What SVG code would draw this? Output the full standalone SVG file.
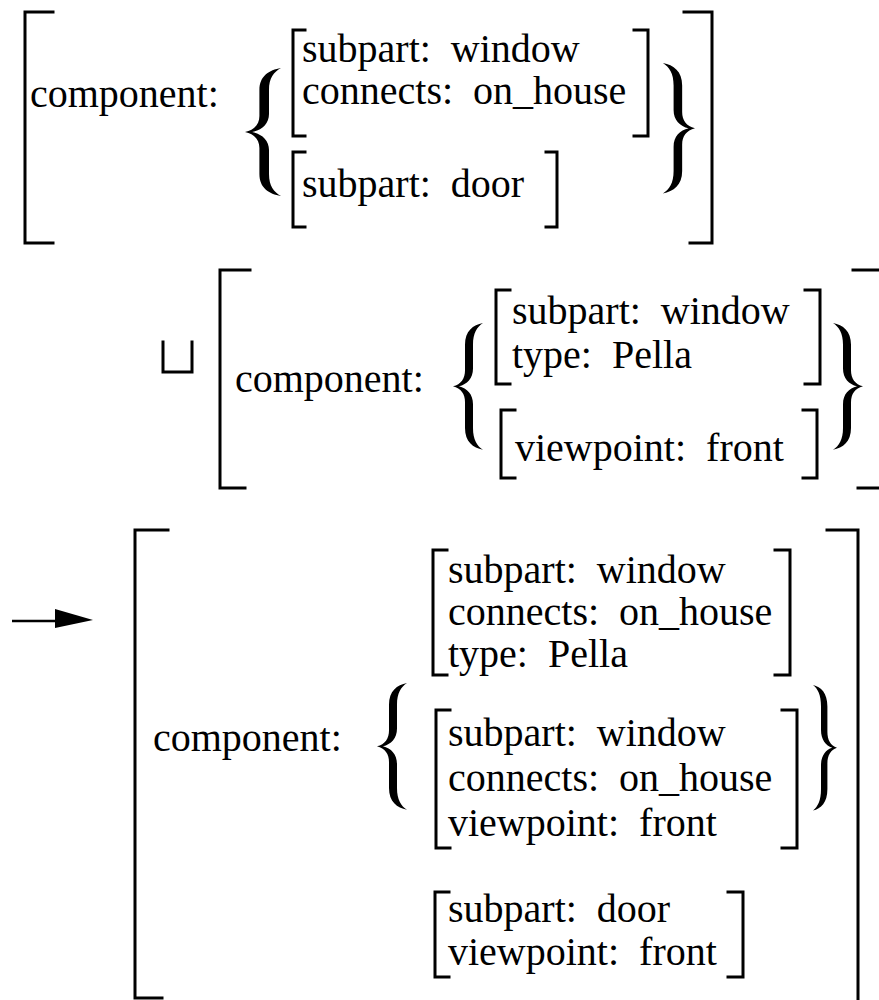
<svg xmlns="http://www.w3.org/2000/svg" xmlns:xlink="http://www.w3.org/1999/xlink" width="879" height="1000" viewBox="0 0 879 1000" xml:space="preserve">
<style>
text { font-family: "Liberation Serif", "Times New Roman", serif; font-size: 40px; fill: #000; white-space: pre; }
.br { fill: none; stroke: #000; stroke-width: 3; stroke-linecap: square; stroke-linejoin: miter; }
.brace { fill: #000; }
</style>
<defs>
<path id="lbrace" d="M30,0 C20,2 12,8 12,22 L12,48 C12,56 8,62 0,64 C8,66 12,72 12,80 L12,106 C12,120 20,126 30,128 C24,124 20,118 20,106 L20,82 C20,72 14,66 6,64 C14,62 20,56 20,46 L20,22 C20,10 24,4 30,0 Z"/>
</defs>
<rect width="879" height="1000" fill="#fff"/>

<g id="block1">
  <path class="br" d="M53,12 H25 V243 H53"/>
  <text x="30" y="107">component:</text>
  <use href="#lbrace" class="brace" transform="translate(245,68) scale(1.2,1.0)"/>
  <g id="b1-fs1">
    <path class="br" d="M305,30 H293 V136 H305"/>
    <text x="302" y="62">subpart:  window</text>
    <text x="302" y="104">connects:  on_house</text>
    <path class="br" d="M634,30 H648 V136 H634"/>
  </g>
  <g id="b1-fs2">
    <path class="br" d="M305,152 H293 V227 H305"/>
    <text x="302" y="197">subpart:  door</text>
    <path class="br" d="M546,152 H557 V227 H546"/>
  </g>
  <use href="#lbrace" class="brace" transform="translate(695,63) scale(-1.07,1.02)"/>
  <path class="br" d="M684,12 H712 V243 H690"/>
</g>

<g id="unify">
  <path class="br" d="M163,342 V372 H192 V342" stroke-width="2.5"/>
</g>

<g id="block2">
  <path class="br" d="M250,270 H220 V488 H245"/>
  <text x="235" y="392">component:</text>
  <use href="#lbrace" class="brace" transform="translate(453,323) scale(1.0,0.99)"/>
  <g id="b2-fs1">
    <path class="br" d="M510,290 H496 V384 H510"/>
    <text x="512" y="324">subpart:  window</text>
    <text x="512" y="368">type:  Pella</text>
    <path class="br" d="M805,290 H820 V384 H805"/>
  </g>
  <g id="b2-fs2">
    <path class="br" d="M515,410 H501 V478 H515"/>
    <text x="515" y="461">viewpoint:  front</text>
    <path class="br" d="M803,410 H817 V478 H803"/>
  </g>
  <use href="#lbrace" class="brace" transform="translate(863,323) scale(-1.0,0.99)"/>
  <path class="br" d="M853,270 H880"/>
  <path class="br" d="M858,488 H880"/>
</g>

<g id="connectors">
  <path d="M12,621 H58" stroke="#000" stroke-width="2.5" fill="none"/>
  <path d="M55,609 L93,620 L55,628 Z" fill="#000"/>
</g>

<g id="block3">
  <path class="br" d="M168,530 H135 V998 H162"/>
  <text x="153" y="751">component:</text>
  <use href="#lbrace" class="brace" transform="translate(377,683) scale(1.0,0.99)"/>
  <g id="b3-fs1">
    <path class="br" d="M447,550 H433 V675 H447"/>
    <text x="448" y="583">subpart:  window</text>
    <text x="448" y="625">connects:  on_house</text>
    <text x="448" y="667">type:  Pella</text>
    <path class="br" d="M775,550 H790 V675 H775"/>
  </g>
  <g id="b3-fs2">
    <path class="br" d="M450,710 H436 V848 H450"/>
    <text x="448" y="746">subpart:  window</text>
    <text x="448" y="791">connects:  on_house</text>
    <text x="448" y="836">viewpoint:  front</text>
    <path class="br" d="M782,710 H797 V848 H782"/>
  </g>
  <g id="b3-fs3">
    <path class="br" d="M449,892 H435 V977 H449"/>
    <text x="448" y="922">subpart:  door</text>
    <text x="448" y="965">viewpoint:  front</text>
    <path class="br" d="M728,892 H743 V977 H728"/>
  </g>
  <use href="#lbrace" class="brace" transform="translate(837,685) scale(-0.8,0.98)"/>
  <path class="br" d="M827,530 H858 V1000"/>
</g>
</svg>
